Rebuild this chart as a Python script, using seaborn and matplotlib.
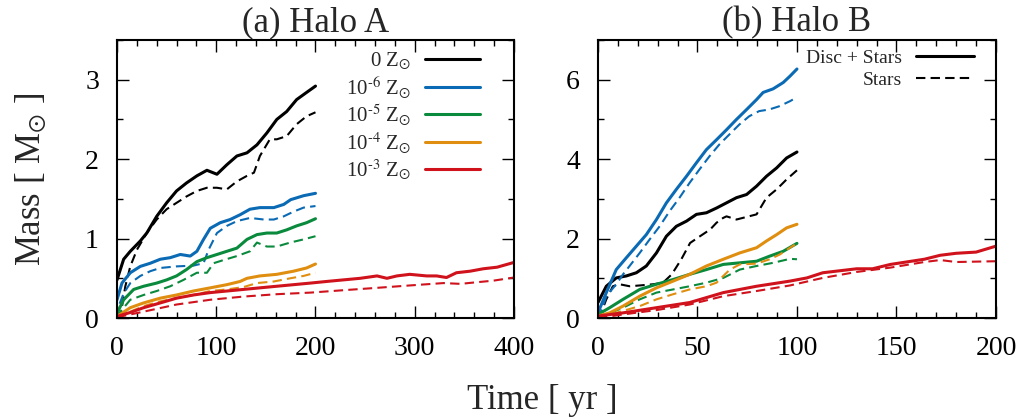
import numpy as np
import pandas as pd
import matplotlib
matplotlib.use("Agg")
import matplotlib.pyplot as plt
from matplotlib.ticker import MultipleLocator
from matplotlib.lines import Line2D
import seaborn as sns

sns.set_theme(style="ticks")
plt.rcParams["font.family"] = ["Liberation Serif", "DejaVu Serif"]
plt.rcParams["mathtext.fontset"] = "stix"

# ---------------- Data: Halo A ----------------
a_t0 = [0, 6.7, 13.4, 23.5, 30, 40, 50, 60, 70, 80.5, 90.6, 100.7, 110.7, 120.8, 131, 141, 151, 161, 171, 181, 191, 200]
a_0_disc = [0.48, 0.74, 0.84, 0.97, 1.07, 1.28, 1.45, 1.60, 1.70, 1.79, 1.86, 1.81, 1.93, 2.04, 2.08, 2.18, 2.33, 2.50, 2.60, 2.75, 2.84, 2.92]
a_t0s = [0, 3.4, 8.4, 13.4, 20.1, 30, 40, 50, 60, 70, 80.5, 90.6, 100.7, 110.7, 120.8, 131, 138, 144, 154, 161, 171, 181, 191, 200]
a_0_stars = [0.0, 0.02, 0.40, 0.65, 0.86, 1.07, 1.24, 1.37, 1.45, 1.53, 1.60, 1.64, 1.64, 1.62, 1.72, 1.79, 1.83, 2.04, 2.25, 2.25, 2.29, 2.44, 2.54, 2.59]

a_t6 = [0, 5, 13.4, 23.5, 33.6, 43.6, 53.7, 63.8, 73.8, 80.5, 87.2, 94, 104, 114, 124, 134, 144, 158, 168, 175, 188, 200]
a_6_disc = [0.23, 0.44, 0.57, 0.65, 0.69, 0.74, 0.76, 0.80, 0.78, 0.84, 0.99, 1.13, 1.20, 1.24, 1.30, 1.37, 1.39, 1.39, 1.43, 1.49, 1.54, 1.57]
a_t6s = [0, 1.7, 6.7, 13.4, 23.5, 33.6, 43.6, 60, 77, 87.2, 92.3, 100.7, 110.7, 120.8, 134, 148, 158, 168, 178, 188, 200]
a_6_stars = [0.0, 0.15, 0.31, 0.44, 0.53, 0.59, 0.63, 0.65, 0.66, 0.69, 0.86, 1.07, 1.16, 1.22, 1.26, 1.24, 1.24, 1.28, 1.34, 1.39, 1.41]

a_t5 = [0, 6.7, 16.8, 26.8, 40, 50, 60, 70, 80.5, 90.6, 100.7, 110.7, 120.8, 131, 141, 151, 161, 171, 181, 191, 200]
a_5_disc = [0.06, 0.23, 0.36, 0.40, 0.44, 0.48, 0.53, 0.61, 0.71, 0.76, 0.80, 0.84, 0.88, 0.99, 1.05, 1.07, 1.07, 1.11, 1.16, 1.20, 1.25]
a_t5s = [0, 3.4, 13.4, 26.8, 40, 53.7, 67, 80.5, 90.6, 97.3, 107.4, 120.8, 134, 141, 151, 161, 174.5, 188, 200]
a_5_stars = [0.0, 0.08, 0.23, 0.29, 0.34, 0.40, 0.48, 0.57, 0.57, 0.69, 0.73, 0.78, 0.84, 0.95, 0.90, 0.90, 0.95, 0.99, 1.03]

a_t4 = [0, 13.4, 26.8, 43.6, 60, 77, 94, 110.7, 124, 131, 144, 161, 178, 191, 200]
a_4_disc = [0.02, 0.13, 0.19, 0.25, 0.29, 0.34, 0.38, 0.42, 0.46, 0.50, 0.53, 0.55, 0.59, 0.63, 0.68]
a_t4s = [0, 13.4, 26.8, 43.6, 60, 77, 94, 110.7, 127.5, 141, 158, 174.5, 188, 200]
a_4_stars = [0.01, 0.08, 0.15, 0.21, 0.25, 0.29, 0.34, 0.36, 0.39, 0.44, 0.46, 0.50, 0.53, 0.57]

a_t3 = [0, 13.4, 26.8, 43.6, 60, 77, 94, 110.7, 127.5, 144, 161, 178, 195, 211, 228, 245, 262, 272, 282, 295, 312, 322, 332, 342, 356, 369, 383, 400]
a_3_disc = [0.02, 0.07, 0.13, 0.19, 0.25, 0.29, 0.32, 0.34, 0.36, 0.38, 0.40, 0.42, 0.44, 0.46, 0.48, 0.50, 0.53, 0.50, 0.53, 0.55, 0.53, 0.53, 0.51, 0.57, 0.59, 0.62, 0.64, 0.70]
a_t3s = [0, 26.8, 60, 94, 127.5, 161, 195, 228, 262, 295, 329, 346, 362, 379, 400]
a_3_stars = [0.01, 0.08, 0.17, 0.23, 0.27, 0.30, 0.32, 0.35, 0.38, 0.41, 0.44, 0.43, 0.45, 0.47, 0.51]

# ---------------- Data: Halo B ----------------
b_t6 = [0, 4.2, 9.2, 14.3, 19.3, 24.3, 29.4, 34.4, 39.4, 44.5, 49.5, 54.5, 59.6, 64.6, 69.6, 74.7, 79.7, 83, 88, 93.1, 96.5, 100]
b_6_disc = [0.13, 0.64, 1.22, 1.52, 1.81, 2.10, 2.48, 2.90, 3.24, 3.57, 3.91, 4.24, 4.49, 4.74, 5.00, 5.25, 5.50, 5.68, 5.77, 5.93, 6.09, 6.27]
b_t6s = [0, 0.8, 4.2, 9.2, 12.6, 15.9, 21, 26, 31, 36, 41, 46, 51, 56, 61, 66, 71, 76, 81, 86, 91, 96.5, 100]
b_6_stars = [0.0, 0.05, 0.55, 0.85, 1.10, 1.31, 1.64, 1.98, 2.31, 2.69, 3.03, 3.40, 3.74, 4.07, 4.37, 4.62, 4.87, 5.08, 5.21, 5.25, 5.33, 5.46, 5.56]

b_t0 = [0, 4.2, 9.2, 14.3, 19.3, 24.3, 29.4, 34.4, 39.4, 44.5, 49.5, 54.5, 59.6, 64.6, 69.6, 74.7, 79.7, 84.7, 89.8, 94.8, 100]
b_0_disc = [0.39, 0.80, 1.01, 1.06, 1.14, 1.31, 1.64, 2.06, 2.31, 2.44, 2.61, 2.65, 2.77, 2.90, 3.03, 3.11, 3.32, 3.57, 3.78, 4.03, 4.18]
b_t0s = [0, 0.8, 4.2, 7.5, 10.9, 15.9, 21, 27.7, 32.7, 37.1, 41.9, 46.3, 51.3, 56.4, 59.6, 62.9, 64.6, 69.6, 79.7, 84.7, 89.8, 94.8, 100]
b_0_stars = [0.0, 0.03, 0.47, 0.80, 0.85, 0.80, 0.82, 0.85, 0.89, 1.10, 1.48, 1.89, 2.06, 2.23, 2.40, 2.52, 2.56, 2.48, 2.61, 3.03, 3.24, 3.49, 3.72]

b_t4 = [0, 5.9, 12.6, 21, 29.4, 37.8, 46.1, 54.5, 63, 71.3, 79.7, 84.7, 89.8, 94.8, 100]
b_4_disc = [0.05, 0.13, 0.30, 0.55, 0.76, 0.93, 1.10, 1.31, 1.48, 1.64, 1.77, 1.94, 2.10, 2.27, 2.36]
b_t4s = [0, 12.6, 21, 29.4, 37.8, 46.1, 54.5, 59.6, 63, 66.3, 71.3, 79.7, 86.4, 91.4, 96.5, 100]
b_4_stars = [0.0, 0.18, 0.30, 0.47, 0.60, 0.72, 0.80, 0.89, 1.06, 1.22, 1.35, 1.37, 1.48, 1.60, 1.77, 1.88]

b_t5 = [0, 5.9, 12.6, 21, 29.4, 37.8, 46.1, 54.5, 63, 71.3, 79.7, 86.4, 93.1, 100]
b_5_disc = [0.09, 0.26, 0.47, 0.72, 0.85, 0.97, 1.10, 1.22, 1.35, 1.39, 1.43, 1.56, 1.68, 1.88]
b_t5s = [0, 12.6, 21, 29.4, 37.8, 46.1, 54.5, 63, 71.3, 79.7, 88, 96.5, 100]
b_5_stars = [0.0, 0.26, 0.47, 0.64, 0.72, 0.80, 0.89, 1.01, 1.22, 1.31, 1.39, 1.49, 1.48]

b_t3 = [0, 12.6, 29.4, 46.1, 63, 79.7, 96.5, 105, 113, 130, 138, 147, 164, 172, 180, 190, 200]
b_3_disc = [0.05, 0.13, 0.26, 0.39, 0.64, 0.80, 0.93, 1.01, 1.14, 1.24, 1.24, 1.35, 1.48, 1.58, 1.63, 1.66, 1.81]
b_t3s = [0, 12.6, 29.4, 46.1, 63, 79.7, 96.5, 113, 130, 147, 164, 172, 180, 200]
b_3_stars = [0.0, 0.09, 0.20, 0.34, 0.55, 0.68, 0.82, 1.01, 1.16, 1.27, 1.41, 1.46, 1.41, 1.43]

labels = ["0 Z$_{\\odot}$", "10$^{\\text{-6}}$ Z$_{\\odot}$", "10$^{\\text{-5}}$ Z$_{\\odot}$",
          "10$^{\\text{-4}}$ Z$_{\\odot}$", "10$^{\\text{-3}}$ Z$_{\\odot}$"]
colors = ["#000000", "#0a6ab4", "#0a8a3c", "#e08e10", "#d0121c"]

halo_a = [
    (a_t0, a_0_disc, a_t0s, a_0_stars),
    (a_t6, a_6_disc, a_t6s, a_6_stars),
    (a_t5, a_5_disc, a_t5s, a_5_stars),
    (a_t4, a_4_disc, a_t4s, a_4_stars),
    (a_t3, a_3_disc, a_t3s, a_3_stars),
]
halo_b = [
    (b_t0, b_0_disc, b_t0s, b_0_stars),
    (b_t6, b_6_disc, b_t6s, b_6_stars),
    (b_t5, b_5_disc, b_t5s, b_5_stars),
    (b_t4, b_4_disc, b_t4s, b_4_stars),
    (b_t3, b_3_disc, b_t3s, b_3_stars),
]

fig = plt.figure(figsize=(10.29, 4.19), dpi=100)
ax1 = fig.add_axes([0.1137, 0.241, 0.3858, 0.6635])
ax2 = fig.add_axes([0.5811, 0.241, 0.3868, 0.6635])

def draw(ax, series):
    for (t, d, ts, s), c in zip(series, colors):
        sns.lineplot(x=ts, y=s, ax=ax, color=c, linewidth=1.5,
                     linestyle=(0, (4.5, 2.5)), estimator=None, sort=False)
        sns.lineplot(x=t, y=d, ax=ax, color=c, linewidth=2.2,
                     estimator=None, sort=False)

draw(ax1, halo_a)
draw(ax2, halo_b)

for ax in (ax1, ax2):
    for sp in ax.spines.values():
        sp.set_visible(True)
        sp.set_linewidth(1.5)
        sp.set_color("black")
    ax.tick_params(which="both", direction="in", top=True, right=True,
                   colors="black", width=1.0, labelsize=20)
    ax.tick_params(which="major", length=8.5)
    ax.tick_params(which="minor", length=4.5)
    ax.tick_params(axis="y", which="major", pad=13)
    ax.tick_params(axis="x", which="major", pad=13)
    ax.set_xlabel("")
    ax.set_ylabel("")

ax1.set_xlim(0, 400)
ax1.set_ylim(0, 3.5)
ax1.xaxis.set_major_locator(MultipleLocator(100))
ax1.xaxis.set_minor_locator(MultipleLocator(20))
ax1.yaxis.set_major_locator(MultipleLocator(1))
ax1.yaxis.set_minor_locator(MultipleLocator(0.5))

ax2.set_xlim(0, 200)
ax2.set_ylim(0, 7)
ax2.xaxis.set_major_locator(MultipleLocator(50))
ax2.xaxis.set_minor_locator(MultipleLocator(10))
ax2.yaxis.set_major_locator(MultipleLocator(2))
ax2.yaxis.set_minor_locator(MultipleLocator(1))

ax1.set_title("(a) Halo A", fontsize=25, pad=6)
ax2.set_title("(b) Halo B", fontsize=25, pad=6)
ax1.set_ylabel("Mass [ M$_{\\odot}$ ]", fontsize=25, labelpad=26)
fig.text(0.527, 0.045, "Time [ yr ]", fontsize=25, ha="center", va="center")

handles1 = [Line2D([], [], color=c, linewidth=2.2) for c in colors]
leg1 = ax1.legend(handles1, labels, loc="upper right", bbox_to_anchor=(0.95, 1.015),
                  frameon=False, markerfirst=False, fontsize=15, handlelength=2.6,
                  labelspacing=0.12, handletextpad=0.7, borderaxespad=0.3)
for t in leg1.get_texts():
    t.set_ha("right")

handles2 = [Line2D([], [], color="black", linewidth=2.2),
            Line2D([], [], color="black", linewidth=1.5, linestyle=(0, (4.5, 2.5)))]
leg2 = ax2.legend(handles2, ["Disc + Stars", "Stars"], loc="upper right",
                  bbox_to_anchor=(0.98, 1.015), frameon=False, markerfirst=False,
                  fontsize=14, handlelength=3.0, labelspacing=0.2,
                  handletextpad=0.7, borderaxespad=0.3)

fig.savefig("out.png", dpi=100)
